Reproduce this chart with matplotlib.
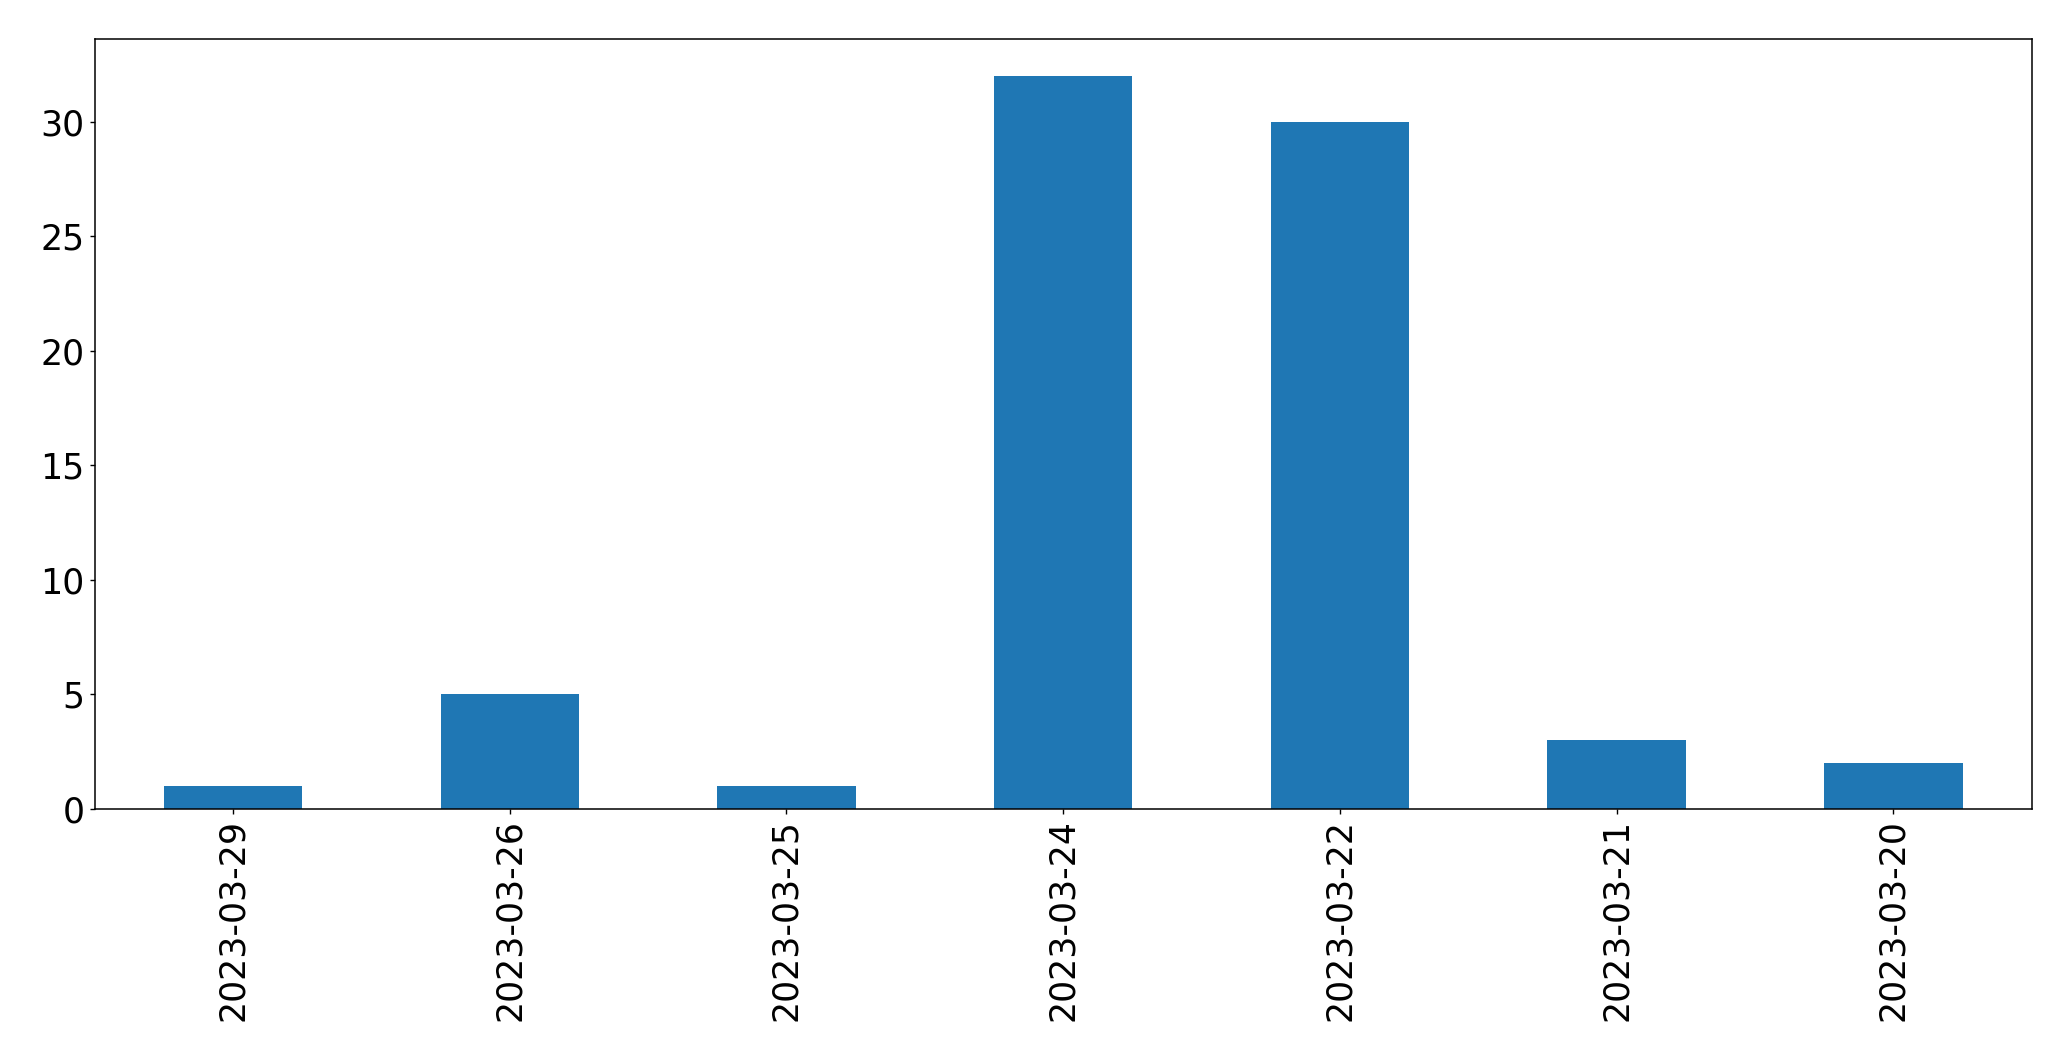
import matplotlib
matplotlib.use("Agg")
import matplotlib.pyplot as plt

dates = ["2023-03-29", "2023-03-26", "2023-03-25", "2023-03-24",
         "2023-03-22", "2023-03-21", "2023-03-20"]
counts = [1, 5, 1, 32, 30, 3, 2]

W, H = 2071, 1061
fig = plt.figure(figsize=(W / 100, H / 100), dpi=100)
ax = fig.add_axes([94.7 / W, 1 - 809 / H, (2031.7 - 94.7) / W, (809 - 39.3) / H])

x = list(range(len(dates)))
ax.bar(x, counts, width=0.5, color="#1f77b4")
ax.set_xlim(-0.5, len(dates) - 0.5)
ax.set_ylim(0, max(counts) * 1.05)
ax.set_xticks(x)
ax.set_xticklabels(dates, rotation=90)
ax.set_yticks([0, 5, 10, 15, 20, 25, 30])
ax.tick_params(labelsize=25, length=3.8, width=1.0)
for s in ax.spines.values():
    s.set_linewidth(1.1)

fig.savefig("out.png", dpi=100)
